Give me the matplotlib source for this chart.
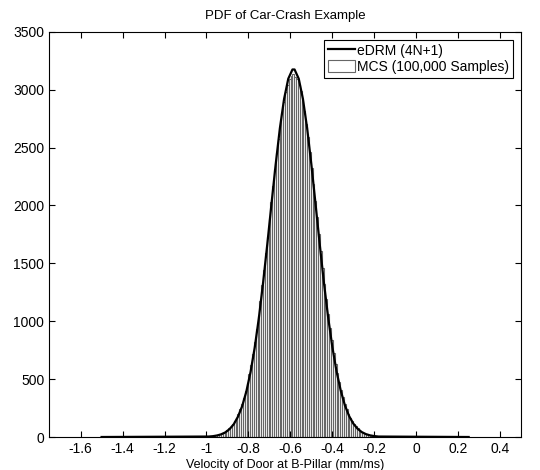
import numpy as np
import matplotlib
matplotlib.use("Agg")
import matplotlib.pyplot as plt

plt.rcParams['font.family'] = ['Liberation Sans', 'DejaVu Sans']

# histogram: 200 bins of equal width over the sample range
hist_lo = -1.5
hist_hi = 0.25
n_bins = 200
first_bin = 59  # index of the first non-empty bin
counts = [6, 8, 11, 14, 19, 24, 31, 38, 47, 60,
          75, 90, 113, 137, 168, 201, 244, 287, 341, 398,
          466, 541, 624, 721, 818, 930, 1046, 1178, 1310, 1441,
          1590, 1728, 1880, 2027, 2171, 2311, 2452, 2575, 2695, 2800,
          2897, 2978, 3038, 3095, 3120, 3132, 3110, 3090, 3045, 2988,
          2906, 2815, 2708, 2588, 2460, 2325, 2190, 2042, 1897, 1752,
          1606, 1462, 1320, 1190, 1062, 945, 834, 728, 635, 550,
          472, 404, 342, 289, 242, 202, 167, 138, 113, 92,
          74, 59, 47, 37, 29, 23, 18, 14, 11, 8, 6]

# eDRM (4N+1) pdf, scaled to counts
curve_x = [-1.5, -0.99, -0.97, -0.95, -0.93, -0.91, -0.89, -0.87, -0.85, -0.83,
           -0.81, -0.79, -0.77, -0.75, -0.73, -0.71, -0.69, -0.67, -0.65, -0.63,
           -0.61, -0.59, -0.58, -0.56, -0.54, -0.52, -0.50, -0.48, -0.46, -0.44,
           -0.42, -0.40, -0.38, -0.36, -0.34, -0.32, -0.30, -0.28, -0.26, -0.24,
           -0.22, -0.20, -0.18, 0.25]
curve_y = [0, 4, 7, 13, 23, 40, 68, 110, 175, 265,
           392, 559, 772, 1031, 1333, 1665, 2014, 2356, 2667, 2920,
           3095, 3175, 3175, 3095, 2920, 2667, 2356, 2014, 1665, 1333,
           1035, 779, 568, 402, 273, 181, 116, 72, 43, 25,
           14, 8, 4, 0]

all_counts = np.zeros(n_bins)
all_counts[first_bin:first_bin + len(counts)] = counts
edges = np.linspace(hist_lo, hist_hi, n_bins + 1)
centers = (edges[:-1] + edges[1:]) / 2

fig = plt.figure(figsize=(5.4, 4.7), dpi=100)
ax = fig.add_axes([0.091, 0.0702, 0.874, 0.862])

ax.plot(curve_x, curve_y, 'k-', lw=1.6, label="eDRM (4N+1)", zorder=3)
ax.hist(centers, bins=edges, weights=all_counts, facecolor='white',
        edgecolor='0.4', linewidth=0.8, label="MCS (100,000 Samples)")

ax.set_xlim(-1.75, 0.5)
ax.set_ylim(0, 3500)
ax.set_xticks(np.arange(-1.6, 0.41, 0.2))
ax.set_xticklabels(["-1.6", "-1.4", "-1.2", "-1", "-0.8", "-0.6", "-0.4",
                    "-0.2", "0", "0.2", "0.4"])
ax.set_yticks(np.arange(0, 3501, 500))
ax.tick_params(direction='in', top=True, right=True, length=4, labelsize=10)
ax.set_xlabel("Velocity of Door at B-Pillar (mm/ms)", fontsize=9, labelpad=2)
ax.set_title("PDF of Car-Crash Example", fontsize=9.5, pad=9)
leg = ax.legend(loc='upper right', fontsize=10, fancybox=False, framealpha=1,
                edgecolor='black', handlelength=1.95, handleheight=0.9,
                handletextpad=0.15, labelspacing=0.15, borderpad=0.3,
                borderaxespad=0.55)
leg.get_frame().set_linewidth(0.8)

fig.savefig("out.png", dpi=100)
